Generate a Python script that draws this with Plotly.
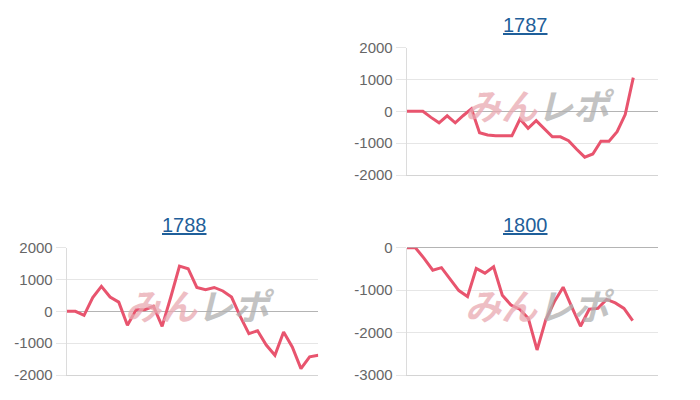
import plotly.graph_objs as go

# monthly balance series, one per year
titles = ["1787", "1788", "1800"]

values_1787 = [0, 0, 0, -190, -360, -140, -360, -130, 80, -670, -740, -770, -770, -770,
               -240, -530, -290, -530, -800, -800, -920, -1190, -1440, -1340, -940, -940,
               -640, -100, 1060]
values_1788 = [0, 0, -125, 430, 785, 450, 290, -440, 50, 50, 160, -470, 450, 1420, 1340,
               750, 680, 750, 640, 450, -160, -700, -610, -1060, -1380, -650, -1120, -1800,
               -1430, -1380]
values_1800 = [0, 0, -250, -530, -470, -740, -1010, -1150, -490, -600, -450, -1120, -1350,
               -1450, -1670, -2410, -1700, -1270, -930, -1400, -1850, -1450, -1430, -1220,
               -1300, -1430, -1720]

y_ticks_a = [-2000, -1000, 0, 1000, 2000]
y_ticks_b = [-3000, -2000, -1000, 0]

line_color = "#e8546e"
grid_color = "#e6e6e6"
font_family = "Liberation Sans, Arial, sans-serif"

fig = go.Figure()
series = [values_1787, values_1788, values_1800]
for i, vals in enumerate(series):
    suffix = "" if i == 0 else str(i + 1)
    fig.add_trace(go.Scatter(
        x=list(range(len(vals))),
        y=vals,
        mode="lines",
        line=dict(color=line_color, width=3),
        xaxis="x" + suffix,
        yaxis="y" + suffix,
        showlegend=False,
        hoverinfo="skip"))


def x_axis(domain, rng, anchor):
    return dict(domain=domain, range=rng, anchor=anchor,
                showgrid=False, zeroline=False, showticklabels=False, ticks="",
                showline=True, linecolor="#d4d4d4", linewidth=1)


def y_axis(domain, rng, ticks, anchor):
    return dict(domain=domain, range=rng, anchor=anchor,
                tickvals=ticks, ticktext=[str(t) for t in ticks],
                showgrid=True, gridcolor=grid_color, gridwidth=1,
                zeroline=True, zerolinecolor="#b4b4b4", zerolinewidth=1,
                showline=True, linecolor="#dcdcdc", linewidth=1,
                ticks="outside", ticklen=10, tickcolor=grid_color,
                tickfont=dict(family=font_family, size=15, color="#666666"))


top = [1 - 175 / 400, 1 - 47.7 / 400]
bottom = [1 - 375 / 400, 1 - 247.7 / 400]
right = [406.7 / 700, 658.3 / 700]
left = [66.7 / 700, 318.3 / 700]

layout = go.Layout(
    width=700, height=400, autosize=False,
    plot_bgcolor="white", paper_bgcolor="white",
    margin=dict(t=0, b=0, l=0, r=0, pad=0, autoexpand=False),
    xaxis=x_axis(right, [0, 31.09], "y"),
    yaxis=y_axis(top, [-2000, 2000], y_ticks_a, "x"),
    xaxis2=x_axis(left, [0, 29], "y2"),
    yaxis2=y_axis(bottom, [-2000, 2000], y_ticks_a, "x2"),
    xaxis3=x_axis(right, [0, 28.95], "y3"),
    yaxis3=y_axis(bottom, [-3000, 0], y_ticks_b, "x3"),
)
fig.update_layout(layout)

# chart titles (underlined link style)
title_pos = [(525 / 700, 1 - 24.7 / 400), (184.7 / 700, 1 - 224.7 / 400), (525 / 700, 1 - 224.7 / 400)]
for t, (tx, ty) in zip(titles, title_pos):
    fig.add_annotation(text="<u>" + t + "</u>", x=tx, y=ty, xref="paper", yref="paper",
                       showarrow=False, xanchor="center", yanchor="middle",
                       font=dict(family=font_family, size=20, color="#1f5f9a"))

# watermark logo in each chart
for suffix in ["", "2", "3"]:
    fig.add_annotation(
        text="<b><i><span style='color:#e9a9b1'>みん</span>"
             "<span style='color:#b0b0b0'>レポ</span></i></b>",
        x=0.53, y=0.56, xref="x" + suffix + " domain", yref="y" + suffix + " domain",
        showarrow=False, opacity=0.75,
        font=dict(family="Noto Sans CJK JP", size=36))

fig.write_html("out.html", config={"responsive": False, "displayModeBar": False},
               post_script="document.body.style.margin='0';")
